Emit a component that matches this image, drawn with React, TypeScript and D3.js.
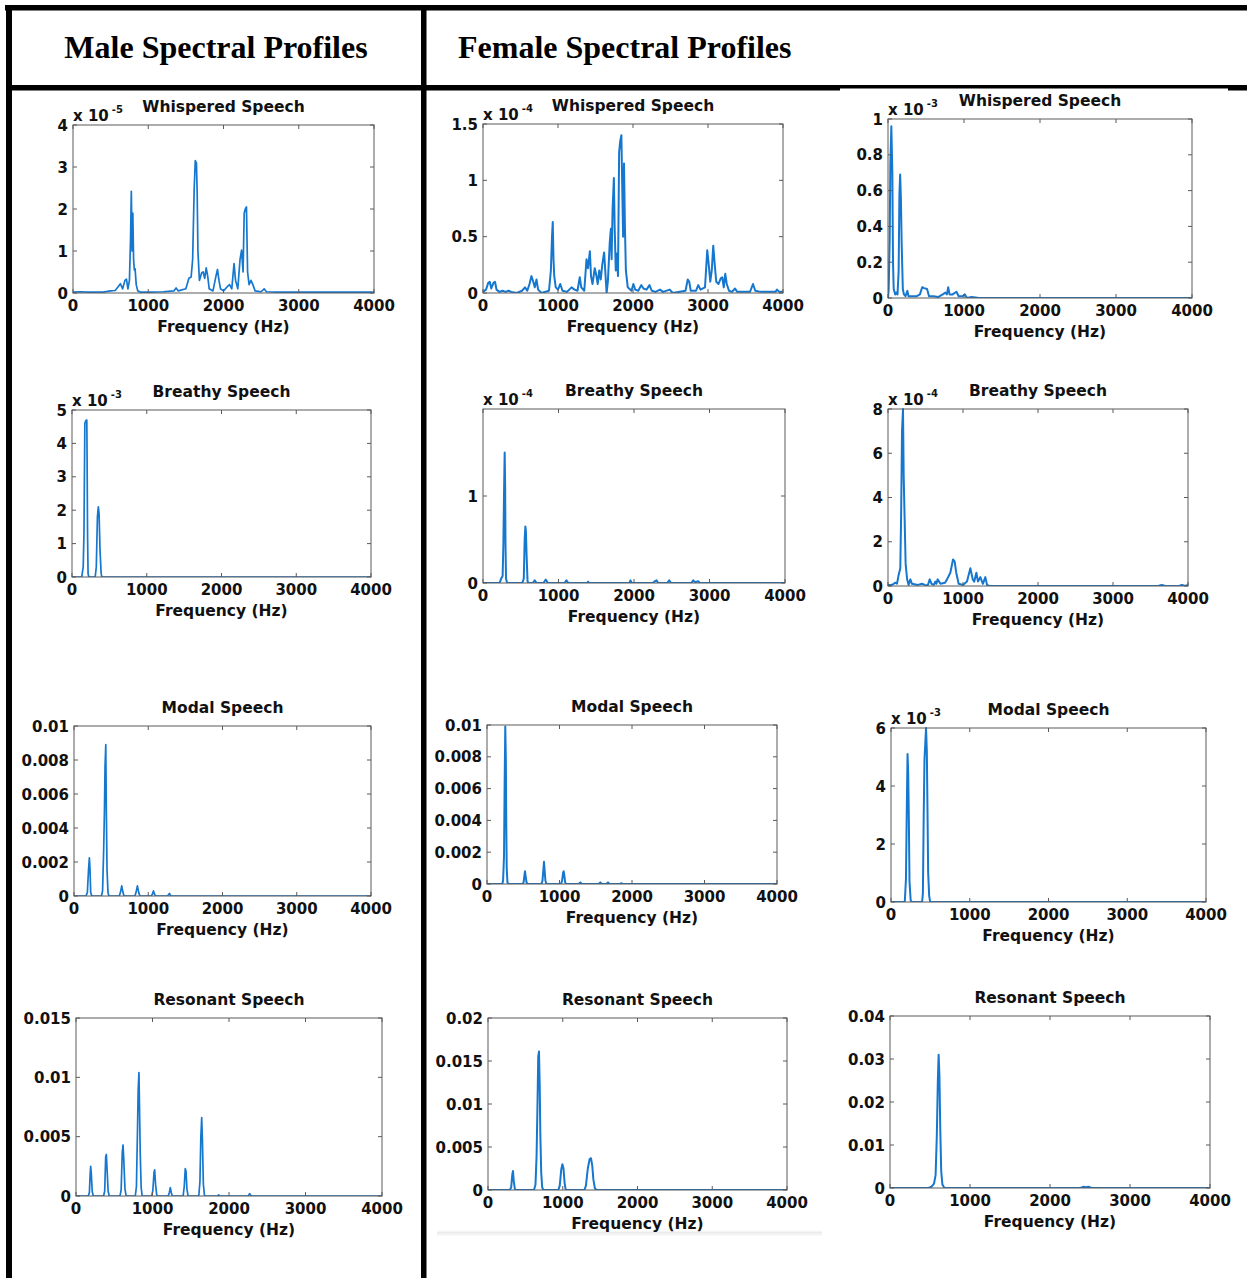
import React from 'react';
import * as d3 from 'd3';

type Pt = [number, number];

const FREQ_TICKS = [0, 1000, 2000, 3000, 4000];

// Male — whispered (x 1e-5)
const maleWhispered: Pt[] = [[0,0.02],[100,0.03],[200,0.02],[400,0.02],[500,0.05],[560,0.06],[600,0.15],[630,0.22],[660,0.1],[690,0.3],[710,0.33],[730,0.1],[750,0.3],[765,1.3],[775,2.42],[785,1.0],[795,1.9],[805,0.8],[815,0.55],[825,0.58],[840,0.2],[860,0.05],[900,0.02],[1000,0.02],[1200,0.03],[1340,0.05],[1370,0.12],[1400,0.05],[1500,0.1],[1540,0.35],[1570,0.38],[1590,0.8],[1610,2.45],[1625,3.15],[1640,3.1],[1650,2.4],[1660,1.0],[1680,0.3],[1710,0.48],[1730,0.5],[1750,0.35],[1770,0.6],[1790,0.4],[1810,0.1],[1860,0.05],[1900,0.4],[1920,0.56],[1940,0.3],[1960,0.1],[2000,0.05],[2050,0.15],[2080,0.2],[2110,0.1],[2140,0.7],[2160,0.3],[2190,0.1],[2220,0.8],[2240,1.02],[2260,0.5],[2275,1.9],[2290,2.0],[2305,2.05],[2320,0.5],[2340,0.2],[2365,0.3],[2390,0.2],[2420,0.05],[2500,0.03],[2540,0.1],[2570,0.03],[2700,0.02],[3000,0.02],[3500,0.02],[4000,0.02]];

// Female — whispered, middle column (x 1e-4)
const femaleWhisperedA: Pt[] = [[0,0.01],[40,0.03],[70,0.09],[90,0.1],[110,0.04],[140,0.09],[160,0.1],[180,0.03],[220,0.01],[260,0.02],[300,0.01],[340,0.02],[380,0.01],[450,0.0],[520,0.02],[560,0.05],[590,0.02],[620,0.08],[646,0.15],[670,0.1],[690,0.05],[713,0.12],[735,0.03],[780,0.0],[880,0.02],[905,0.2],[920,0.5],[930,0.63],[940,0.3],[950,0.15],[970,0.05],[1000,0.03],[1030,0.08],[1060,0.02],[1120,0.01],[1180,0.05],[1220,0.03],[1260,0.02],[1290,0.14],[1310,0.05],[1350,0.02],[1380,0.3],[1400,0.22],[1425,0.37],[1440,0.15],[1460,0.08],[1490,0.22],[1510,0.16],[1530,0.08],[1550,0.2],[1570,0.12],[1590,0.25],[1615,0.36],[1630,0.2],[1648,0.0],[1665,0.1],[1690,0.45],[1705,0.57],[1715,0.3],[1728,0.75],[1745,1.02],[1755,0.6],[1770,0.2],[1785,0.35],[1800,0.15],[1815,1.25],[1830,1.35],[1845,1.4],[1855,1.0],[1868,0.5],[1880,1.15],[1892,0.6],[1905,0.2],[1930,0.05],[1980,0.02],[2005,0.08],[2030,0.03],[2070,0.02],[2110,0.07],[2140,0.04],[2180,0.03],[2220,0.07],[2250,0.02],[2300,0.01],[2360,0.03],[2400,0.01],[2490,0.03],[2530,0.0],[2700,0.02],[2730,0.12],[2750,0.1],[2770,0.02],[2840,0.02],[2870,0.07],[2900,0.03],[2960,0.05],[2990,0.38],[3010,0.25],[3030,0.1],[3050,0.2],[3070,0.42],[3090,0.25],[3110,0.1],[3140,0.08],[3170,0.13],[3190,0.14],[3210,0.05],[3230,0.17],[3250,0.08],[3280,0.02],[3320,0.01],[3360,0.04],[3390,0.01],[3560,0.01],[3600,0.08],[3630,0.02],[3700,0.01],[3900,0.01],[3920,0.03],[3950,0.01],[4000,0.01]];

// Female — whispered, right column (x 1e-3)
const femaleWhisperedB: Pt[] = [[0,0.0],[9,0.05],[22,0.32],[31,0.75],[44,0.96],[52,0.8],[57,0.7],[66,0.2],[75,0.05],[95,0.02],[110,0.03],[125,0.02],[140,0.15],[150,0.58],[160,0.69],[170,0.55],[180,0.3],[195,0.05],[210,0.02],[230,0.01],[255,0.04],[270,0.01],[320,0.01],[380,0.01],[420,0.02],[450,0.06],[475,0.055],[514,0.05],[540,0.01],[600,0.01],[660,0.005],[720,0.02],[756,0.03],[775,0.02],[792,0.06],[810,0.02],[850,0.02],[901,0.035],[930,0.01],[980,0.01],[1011,0.02],[1040,0.0],[1100,0.005],[1200,0.0],[4000,0.0]];

// Male — breathy (x 1e-3)
const maleBreathy: Pt[] = [[0,0],[130,0],[150,0.3],[160,1.3],[168,3.5],[172,4.6],[180,4.65],[190,4.7],[198,4.7],[202,3.5],[208,1.3],[215,0.1],[225,0],[310,0],[325,0.3],[340,1.8],[352,2.1],[362,1.9],[375,0.8],[390,0.1],[400,0],[4000,0]];

// Female — breathy, middle column (x 1e-4)
const femaleBreathyA: Pt[] = [[0,0],[220,0],[240,0.05],[260,0.08],[270,0.45],[278,1.0],[287,1.5],[293,1.15],[298,0.45],[305,0.05],[320,0],[520,0],[540,0.05],[552,0.5],[561,0.65],[568,0.6],[578,0.3],[590,0.02],[600,0],[660,0],[685,0.03],[710,0],[800,0],[831,0.04],[860,0],[1080,0],[1105,0.03],[1130,0],[1380,0],[1392,0.015],[1405,0],[1940,0],[1953,0.03],[1970,0],[2250,0],[2276,0.02],[2300,0.03],[2320,0],[2440,0],[2466,0.03],[2490,0],[2760,0],[2785,0.03],[2810,0.01],[2850,0.02],[2870,0],[4000,0]];

// Female — breathy, right column (x 1e-4)
const femaleBreathyB: Pt[] = [[0,0.05],[50,0.05],[76,0.1],[98,0.15],[120,0.1],[142,0.5],[164,0.8],[175,3.2],[187,7.0],[200,8.0],[209,5.0],[220,3.3],[235,1.0],[255,0.3],[275,0.05],[298,0.3],[320,0.1],[400,0.05],[453,0.1],[490,0.05],[530,0.02],[556,0.3],[580,0.1],[610,0.05],[631,0.2],[645,0.1],[662,0.3],[700,0.1],[760,0.15],[787,0.3],[831,0.6],[867,1.2],[889,1.1],[910,0.6],[942,0.1],[1000,0.05],[1053,0.2],[1098,0.8],[1130,0.3],[1150,0.2],[1178,0.6],[1200,0.2],[1231,0.4],[1265,0.1],[1298,0.4],[1320,0.05],[1350,0.0],[3600,0.0],[3650,0.05],[3700,0.0],[3880,0.0],[3920,0.05],[3960,0.0],[4000,0.05]];

// Male — modal
const maleModal: Pt[] = [[0,0],[160,0],[180,0.0002],[195,0.0015],[207,0.00225],[215,0.0016],[225,0.0002],[240,0],[370,0],[385,0.0003],[400,0.0028],[410,0.005],[418,0.0076],[428,0.0089],[436,0.0048],[445,0.0015],[458,0.0002],[470,0],[610,0],[625,0.0002],[643,0.0006],[660,0.0002],[675,0],[820,0],[835,0.0002],[854,0.0006],[872,0.0002],[888,0],[1040,0],[1055,0.0001],[1070,0.0003],[1085,0.0001],[1100,0],[1260,0],[1285,0.00015],[1305,0],[4000,0]];

// Female — modal, middle column
const femaleModalA: Pt[] = [[0,0],[210,0],[222,0.0002],[235,0.0018],[243,0.0062],[252,0.0099],[260,0.0078],[266,0.0036],[272,0.001],[282,0.0001],[295,0],[490,0],[505,0.0001],[515,0.0005],[524,0.0008],[533,0.0005],[545,0.0001],[560,0],[750,0],[765,0.0002],[778,0.0009],[786,0.0014],[794,0.0009],[806,0.0002],[820,0],[1020,0],[1035,0.0002],[1050,0.0007],[1057,0.0008],[1065,0.0006],[1078,0.0001],[1090,0],[1265,0],[1287,0.0001],[1310,0],[1540,0],[1563,0.0001],[1590,0],[1645,0],[1669,0.0001],[1690,0],[1835,0],[1853,0.00005],[1870,0],[4000,0]];

// Female — modal, right column (x 1e-3)
const femaleModalB: Pt[] = [[0,0],[175,0],[190,0.8],[200,3.1],[210,5.1],[218,4.5],[225,3.2],[235,0.7],[250,0.05],[265,0],[395,0],[405,0.3],[415,2.9],[425,4.9],[445,6.0],[455,5.2],[462,3.5],[472,1.0],[485,0.2],[498,0],[4000,0]];

// Male — resonant
const maleResonant: Pt[] = [[0,0],[160,0],[175,0.0003],[185,0.0018],[192,0.0025],[200,0.0019],[212,0.0004],[225,0],[360,0],[375,0.0004],[388,0.0033],[397,0.0035],[405,0.0024],[420,0.0004],[435,0],[575,0],[590,0.0005],[605,0.0037],[615,0.0043],[625,0.003],[640,0.0006],[655,0],[775,0],[790,0.0008],[805,0.006],[813,0.009],[823,0.0104],[830,0.0075],[840,0.0035],[852,0.0007],[865,0],[990,0],[1005,0.0005],[1020,0.002],[1028,0.0022],[1040,0.001],[1055,0.0001],[1065,0],[1205,0],[1220,0.0003],[1233,0.0007],[1248,0.0002],[1260,0],[1400,0],[1415,0.0008],[1428,0.0023],[1438,0.0021],[1450,0.0006],[1465,0],[1605,0],[1620,0.0012],[1632,0.005],[1643,0.0066],[1652,0.0048],[1665,0.001],[1680,0],[1850,0],[1865,0.0001],[1880,0],[2250,0],[2270,0.0002],[2290,0],[4000,0]];

// Female — resonant, middle column
const femaleResonantA: Pt[] = [[0,0],[290,0],[310,0.0003],[325,0.0018],[334,0.0022],[345,0.001],[360,0.0001],[375,0],[615,0],[635,0.0006],[650,0.004],[662,0.01],[672,0.0155],[682,0.0161],[692,0.012],[700,0.0065],[712,0.002],[725,0.0003],[740,0],[940,0],[960,0.0005],[980,0.0024],[995,0.003],[1010,0.0025],[1025,0.0008],[1040,0],[1290,0],[1310,0.0005],[1335,0.0025],[1360,0.0036],[1378,0.0037],[1395,0.0028],[1410,0.0012],[1430,0.0002],[1450,0],[4000,0]];

// Female — resonant, right column
const femaleResonantB: Pt[] = [[0,0],[480,0],[520,0.0003],[550,0.001],[570,0.003],[585,0.012],[598,0.025],[608,0.031],[618,0.026],[628,0.014],[640,0.004],[655,0.0008],[680,0],[2380,0],[2420,0.0003],[2450,0.0002],[2480,0.0003],[2520,0],[4000,0]];

const ticksInt5 = [0, 1, 2, 3, 4, 5];
const ticksWhM = [0, 1, 2, 3, 4];
const ticksWhFA = [0, 0.5, 1, 1.5];
const ticksWhFB = [0, 0.2, 0.4, 0.6, 0.8, 1];
const ticksBrFA = [0, 1];
const ticksBrFB = [0, 2, 4, 6, 8];
const ticksModal = [0, 0.002, 0.004, 0.006, 0.008, 0.01];
const ticksMoFB = [0, 2, 4, 6];
const ticksReM = [0, 0.005, 0.01, 0.015];
const ticksReFA = [0, 0.005, 0.01, 0.015, 0.02];
const ticksReFB = [0, 0.01, 0.02, 0.03, 0.04];

interface PanelDef {
  title: string;
  data: Pt[];
  ymax: number;
  yticks: number[];
  exp?: string;
  box: [number, number, number, number];
  lw: number;
}

const panels: PanelDef[] = [
  { title: 'Whispered Speech', data: maleWhispered, ymax: 4, yticks: ticksWhM, exp: '-5', box: [73, 125, 374, 293], lw: 1.7 },
  { title: 'Whispered Speech', data: femaleWhisperedA, ymax: 1.5, yticks: ticksWhFA, exp: '-4', box: [483, 124, 783, 293], lw: 2 },
  { title: 'Whispered Speech', data: femaleWhisperedB, ymax: 1, yticks: ticksWhFB, exp: '-3', box: [888, 119, 1192, 298], lw: 2 },
  { title: 'Breathy Speech', data: maleBreathy, ymax: 5, yticks: ticksInt5, exp: '-3', box: [72, 410, 371, 577], lw: 1.7 },
  { title: 'Breathy Speech', data: femaleBreathyA, ymax: 2, yticks: ticksBrFA, exp: '-4', box: [483, 409, 785, 583], lw: 2 },
  { title: 'Breathy Speech', data: femaleBreathyB, ymax: 8, yticks: ticksBrFB, exp: '-4', box: [888, 409, 1188, 586], lw: 2 },
  { title: 'Modal Speech', data: maleModal, ymax: 0.01, yticks: ticksModal, box: [74, 726, 371, 896], lw: 1.7 },
  { title: 'Modal Speech', data: femaleModalA, ymax: 0.01, yticks: ticksModal, box: [487, 725, 777, 884], lw: 2 },
  { title: 'Modal Speech', data: femaleModalB, ymax: 6, yticks: ticksMoFB, exp: '-3', box: [891, 728, 1206, 902], lw: 2 },
  { title: 'Resonant Speech', data: maleResonant, ymax: 0.015, yticks: ticksReM, box: [76, 1018, 382, 1196], lw: 1.7 },
  { title: 'Resonant Speech', data: femaleResonantA, ymax: 0.02, yticks: ticksReFA, box: [488, 1018, 787, 1190], lw: 2 },
  { title: 'Resonant Speech', data: femaleResonantB, ymax: 0.04, yticks: ticksReFB, box: [890, 1016, 1210, 1188], lw: 2 },
];

const FONT = '"DejaVu Sans", Verdana, sans-serif';
const LINE = '#1677cf';
const AXIS = '#5a5a5a';
const TICK = 4;

function Panel({ p, idx }: { p: PanelDef; idx: number }) {
  const [x0, y0, x1, y1] = p.box;
  const x = d3.scaleLinear().domain([0, 4000]).range([x0, x1]);
  const y = d3.scaleLinear().domain([0, p.ymax]).range([y1, y0]);
  const line = d3
    .line<Pt>()
    .x((d) => x(d[0]))
    .y((d) => y(d[1]));
  const cx = (x0 + x1) / 2;
  const clipId = `clip-${idx}`;
  return (
    <g>
      <defs>
        <clipPath id={clipId}>
          <rect x={x0} y={y0 - 1} width={x1 - x0} height={y1 - y0 + 1} />
        </clipPath>
      </defs>
      <path
        d={line(p.data) || ''}
        fill="none"
        stroke={LINE}
        strokeWidth={p.lw}
        strokeLinejoin="round"
        clipPath={`url(#${clipId})`}
      />
      <rect x={x0} y={y0} width={x1 - x0} height={y1 - y0} fill="none" stroke={AXIS} strokeWidth={1} />
      {FREQ_TICKS.map((t) => (
        <g key={`x${t}`}>
          <line x1={x(t)} x2={x(t)} y1={y1} y2={y1 - TICK} stroke={AXIS} />
          <line x1={x(t)} x2={x(t)} y1={y0} y2={y0 + TICK} stroke={AXIS} />
          <text x={x(t)} y={y1 + 18} textAnchor="middle" fontFamily={FONT} fontWeight="bold" fontSize={15} fill="#111">
            {t}
          </text>
        </g>
      ))}
      {p.yticks.map((t) => (
        <g key={`y${t}`}>
          <line x1={x0} x2={x0 + TICK} y1={y(t)} y2={y(t)} stroke={AXIS} />
          <line x1={x1} x2={x1 - TICK} y1={y(t)} y2={y(t)} stroke={AXIS} />
          <text x={x0 - 5} y={y(t) + 5.5} textAnchor="end" fontFamily={FONT} fontWeight="bold" fontSize={15} fill="#111">
            {String(t)}
          </text>
        </g>
      ))}
      {p.exp && (
        <text x={x0} y={y0 - 4} fontFamily={FONT} fontWeight="bold" fontSize={15} fill="#111">
          x 10
          <tspan dx={3} dy={-8} fontSize={10}>
            {p.exp}
          </tspan>
        </text>
      )}
      <text x={cx} y={y0 - 13} textAnchor="middle" fontFamily={FONT} fontWeight="bold" fontSize={15.5} fill="#111">
        {p.title}
      </text>
      <text x={cx} y={y1 + 39} textAnchor="middle" fontFamily={FONT} fontWeight="bold" fontSize={15.5} fill="#111">
        Frequency (Hz)
      </text>
    </g>
  );
}

export default function App() {
  const W = 1247;
  const H = 1278;
  return (
    <svg
      width={W}
      height={H}
      viewBox={`0 0 ${W} ${H}`}
      style={{ position: 'absolute', left: 0, top: 0, background: '#fff' }}
    >
      <rect x={0} y={0} width={W} height={H} fill="#fff" />
      <defs>
        <linearGradient id="shade" x1="0" y1="0" x2="0" y2="1">
          <stop offset="0" stopColor="#ffffff" stopOpacity="0" />
          <stop offset="0.5" stopColor="#e6e6e6" stopOpacity="0.8" />
          <stop offset="1" stopColor="#f4f4f4" stopOpacity="0.5" />
        </linearGradient>
      </defs>
      <rect x={437} y={1229} width={385} height={7} fill="url(#shade)" />
      {/* table borders */}
      <rect x={5} y={5} width={W - 5} height={5.5} fill="#000" />
      <rect x={6} y={5} width={6} height={H - 5} fill="#000" />
      <rect x={421} y={5} width={5.5} height={H - 5} fill="#000" />
      <rect x={6} y={85} width={W - 6} height={5.5} fill="#000" />
      <rect x={840} y={88.5} width={388} height={3} fill="#fff" />
      <text x={216} y={58} textAnchor="middle" fontFamily='"Liberation Serif", "Times New Roman", serif' fontWeight="bold" fontSize={32} fill="#000">
        Male Spectral Profiles
      </text>
      <text x={458} y={58} fontFamily='"Liberation Serif", "Times New Roman", serif' fontWeight="bold" fontSize={32} fill="#000">
        Female Spectral Profiles
      </text>
      {panels.map((p, i) => (
        <Panel key={i} p={p} idx={i} />
      ))}
    </svg>
  );
}
